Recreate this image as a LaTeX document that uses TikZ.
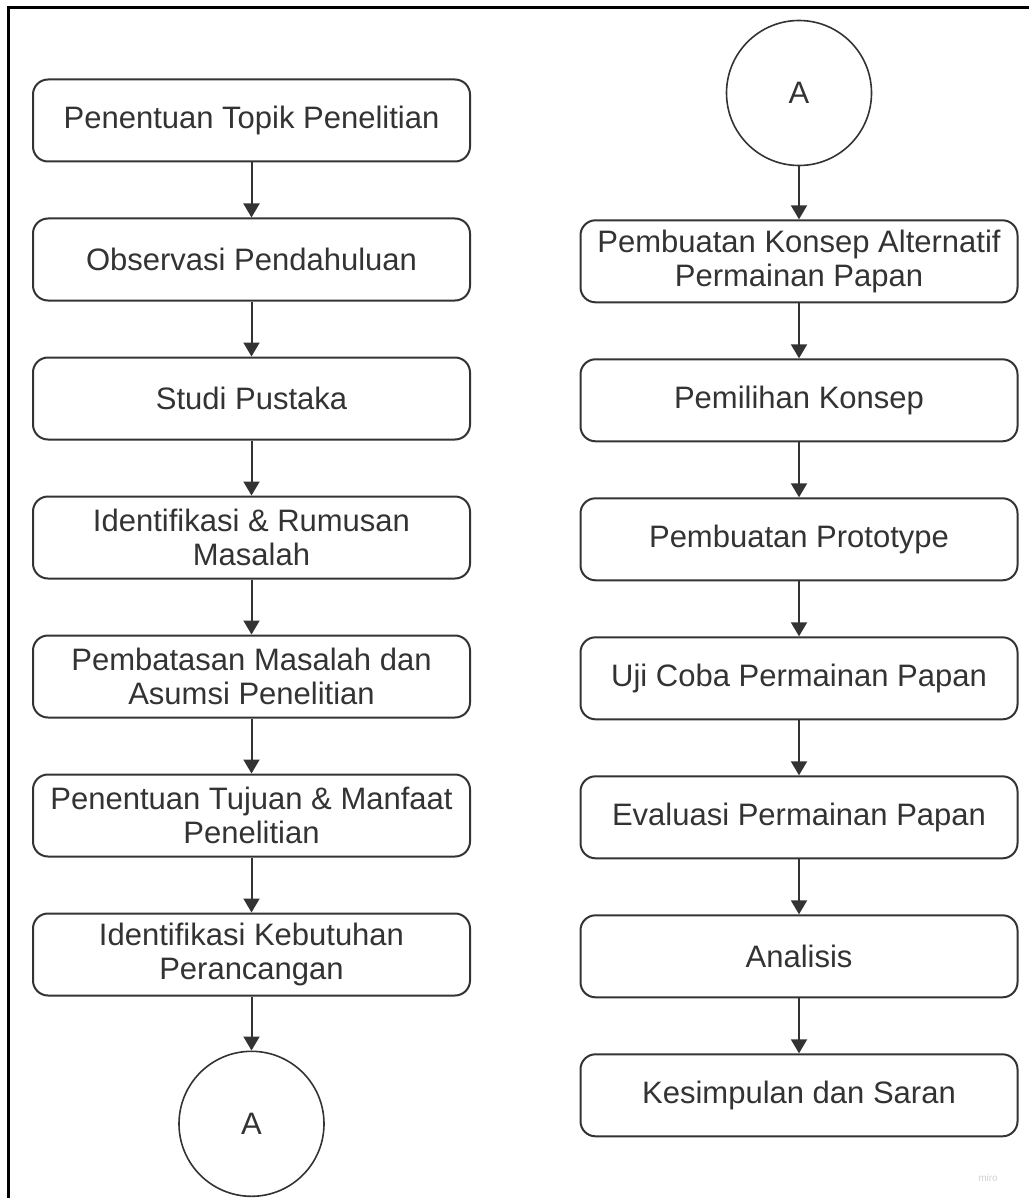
\documentclass[tikz,border=0pt]{standalone}
\usepackage{fontspec}
\setmainfont{Liberation Sans}
\usetikzlibrary{positioning,arrows.meta}
\definecolor{inkgray}{HTML}{333333}
\tikzset{
  stepbox/.style={draw=inkgray, line width=1pt, rounded corners=7.5pt, fill=white,
    minimum width=218.5pt, minimum height=41pt, align=center, text=inkgray,
    font=\fontsize{15.5}{17}\selectfont, inner sep=2pt},
  joint/.style={draw=inkgray, line width=0.8pt, circle, minimum size=72.5pt,
    text=inkgray, font=\fontsize{15.5}{17}\selectfont},
  flow/.style={draw=inkgray, line width=1pt, -{Triangle[length=7pt,width=8pt]}},
  node distance=27.5pt
}
\begin{document}
\begin{tikzpicture}[x=0.5pt,y=-0.5pt]
\useasboundingbox (0,0) rectangle (1029,1198);
\draw[line width=1.5pt] (8,1198) -- (8,8) -- (1029,8);

% left column
\node[stepbox] (l1) at (251.5,120.5) {Penentuan Topik Penelitian};
\node[stepbox, below=of l1] (l2) {Observasi Pendahuluan};
\node[stepbox, below=of l2] (l3) {Studi Pustaka};
\node[stepbox, below=of l3] (l4) {Identifikasi \& Rumusan\\Masalah};
\node[stepbox, below=of l4] (l5) {Pembatasan Masalah dan\\Asumsi Penelitian};
\node[stepbox, below=of l5] (l6) {Penentuan Tujuan \& Manfaat\\Penelitian};
\node[stepbox, below=of l6] (l7) {Identifikasi Kebutuhan\\Perancangan};
\node[joint, below=27pt of l7] (ja) {A};

% right column
\node[joint] (jb) at (799,93) {A};
\node[stepbox, below=26.5pt of jb] (r1) {Pembuatan Konsep Alternatif\\Permainan Papan};
\node[stepbox, below=of r1] (r2) {Pemilihan Konsep};
\node[stepbox, below=of r2] (r3) {Pembuatan Prototype};
\node[stepbox, below=of r3] (r4) {Uji Coba Permainan Papan};
\node[stepbox, below=of r4] (r5) {Evaluasi Permainan Papan};
\node[stepbox, below=of r5] (r6) {Analisis};
\node[stepbox, below=of r6] (r7) {Kesimpulan dan Saran};

\foreach \a/\b in {l1/l2,l2/l3,l3/l4,l4/l5,l5/l6,l6/l7,l7/ja,
                   jb/r1,r1/r2,r2/r3,r3/r4,r4/r5,r5/r6,r6/r7}
  \draw[flow] (\a) -- (\b);

\node[text=black!18, font=\fontsize{5}{6}\selectfont] (wm) at (988,1178) {miro};
\end{tikzpicture}
\end{document}
